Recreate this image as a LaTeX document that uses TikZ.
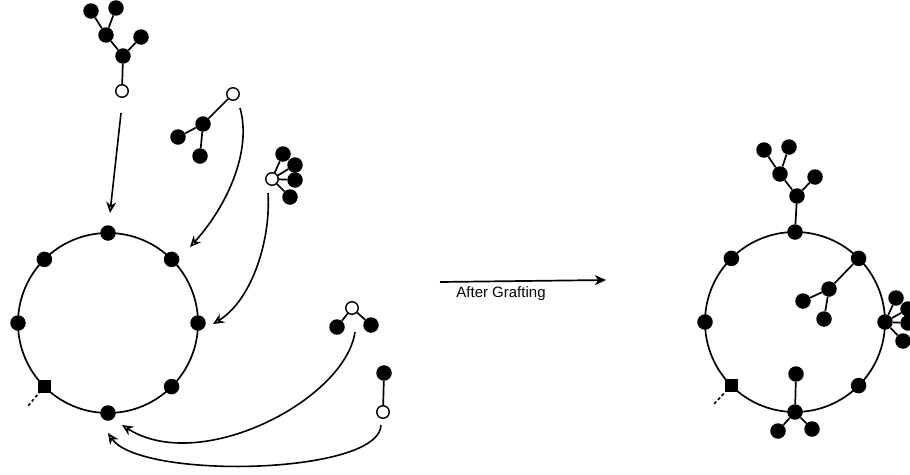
\documentclass[tikz,border=0pt]{standalone}
\usepackage{fontspec}
\setmainfont{Liberation Sans}
\usetikzlibrary{arrows.meta}
\tikzset{
  bl/.style={circle, fill=black, inner sep=0pt, minimum size=15.5pt},
  wh/.style={circle, draw=black, fill=white, line width=1.4pt, inner sep=0pt, minimum size=12.5pt},
  sq/.style={rectangle, fill=black, inner sep=0pt, minimum size=13pt},
  ed/.style={line width=1.7pt},
  ring/.style={line width=1.7pt},
  graft/.style={line width=1.6pt, -{Stealth[open, length=11pt, width=10pt, inset=3.5pt]}},
  main/.style={line width=1.7pt, -{Stealth[length=11pt, width=10pt, inset=3pt]}},
  tail/.style={line width=1.6pt, dash pattern=on 3pt off 2.5pt}
}
\begin{document}
\begin{tikzpicture}[x=1pt, y=-1pt]
\useasboundingbox (0,0) rectangle (910,474);

% ---------- left ring ----------
\coordinate (LC) at (108,323);
\draw[ring] (LC) circle (90);
\node[bl] (L0)   at (198,323) {};
\node[bl] (L45)  at (171.6,259.4) {};
\node[bl] (L90)  at (108,233) {};
\node[bl] (L135) at (44.4,259.4) {};
\node[bl] (L180) at (18,323) {};
\node[sq] (L225) at (44.4,386.6) {};
\node[bl] (L270) at (108,413) {};
\node[bl] (L315) at (171.6,386.6) {};
\coordinate (Lt) at (28,406);
\draw[tail] (L225.center) -- (Lt);

% ---------- right ring ----------
\coordinate (RC) at (795,322);
\draw[ring] (RC) circle (90);
\node[bl] (R0)   at (885,322) {};
\node[bl] (R45)  at (858.6,258.4) {};
\node[bl] (R90)  at (795,232) {};
\node[bl] (R135) at (731.4,258.4) {};
\node[bl] (R180) at (705,322) {};
\node[sq] (R225) at (731.4,385.6) {};
\node[bl] (R270) at (795,412) {};
\node[bl] (R315) at (858.6,385.6) {};
\coordinate (Rt) at (713,405);
\draw[tail] (R225.center) -- (Rt);

% ---------- tree A (free) ----------
\node[bl] (a1) at (123,56) {};
\node[bl] (a2) at (106,35) {};
\node[bl] (a3) at (141,37) {};
\node[bl] (a4) at (91,11) {};
\node[bl] (a5) at (116,8) {};
\node[wh] (w1) at (122,91) {};
\draw[ed] (w1) -- (a1) (a1) -- (a2) (a1) -- (a3) (a2) -- (a4) (a2) -- (a5);

% ---------- tree B (free) ----------
\node[bl] (c1) at (203,124) {};
\node[bl] (c2) at (178,137) {};
\node[bl] (c3) at (200,156) {};
\node[wh] (w2) at (233,94) {};
\draw[ed] (w2) -- (c1) (c1) -- (c2) (c1) -- (c3);

% ---------- tree C (free) ----------
\node[bl] (e1) at (283,154) {};
\node[bl] (e2) at (295,165) {};
\node[bl] (e3) at (295,180) {};
\node[bl] (e4) at (290,197) {};
\coordinate (w3c) at (272,179);
\draw[ed] (w3c) -- (e1) (w3c) -- (e2) (w3c) -- (e3) (w3c) -- (e4);
\node[wh] (w3) at (w3c) {};

% ---------- tree D (free) ----------
\node[bl] (g1) at (337,327) {};
\node[bl] (g2) at (371,325) {};
\node[wh] (w4) at (352,308) {};
\draw[ed] (w4) -- (g1) (w4) -- (g2);

% ---------- tree E (free) ----------
\node[bl] (i1) at (384,373) {};
\node[wh] (w5) at (383,412) {};
\draw[ed] (w5) -- (i1);

% ---------- grafted trees ----------
\node[bl] (b1) at (797,196) {};
\node[bl] (b2) at (780,174) {};
\node[bl] (b3) at (815,177) {};
\node[bl] (b4) at (764,150) {};
\node[bl] (b5) at (789,147) {};
\draw[ed] (R90) -- (b1) (b1) -- (b2) (b1) -- (b3) (b2) -- (b4) (b2) -- (b5);

\node[bl] (d1) at (829,289) {};
\node[bl] (d2) at (803,301) {};
\node[bl] (d3) at (824,319) {};
\draw[ed] (R45) -- (d1) (d1) -- (d2) (d1) -- (d3);

\node[bl] (f1) at (896,298) {};
\node[bl] (f2) at (908,309) {};
\node[bl] (f3) at (908,323) {};
\node[bl] (f4) at (903,341) {};
\draw[ed] (R0) -- (f1) (R0) -- (f2) (R0) -- (f3) (R0) -- (f4);

\node[bl] (h1) at (778,431) {};
\node[bl] (h2) at (812,429) {};
\node[bl] (j1) at (796,374) {};
\draw[ed] (R270) -- (h1) (R270) -- (h2) (R270) -- (j1);

% ---------- grafting arrows ----------
\coordinate (s1) at (121,113);  \coordinate (t1) at (110,213);
\coordinate (s2) at (240,108);  \coordinate (t2) at (190,247);
\coordinate (s3) at (268,193);  \coordinate (t3) at (213,324);
\coordinate (s4) at (355,332);  \coordinate (t4) at (122,425);
\coordinate (s5) at (381,425);  \coordinate (t5) at (108,433);
\draw[graft] (s1) -- (t1);
\draw[graft] (s2) .. controls (252,150) and (228,205) .. (t2);
\draw[graft] (s3) .. controls (271,240) and (252,300) .. (t3);
\draw[graft] (s4) .. controls (345,400) and (200,475) .. (t4);
\draw[graft] (s5) .. controls (380,475) and (140,480) .. (t5);

% ---------- main arrow ----------
\coordinate (m1) at (440,282);
\coordinate (m2) at (606,280);
\draw[main] (m1) -- (m2);
\node[font=\fontsize{15}{18}\selectfont, anchor=center] (lab) at (501,294) {After Grafting};
\end{tikzpicture}
\end{document}
